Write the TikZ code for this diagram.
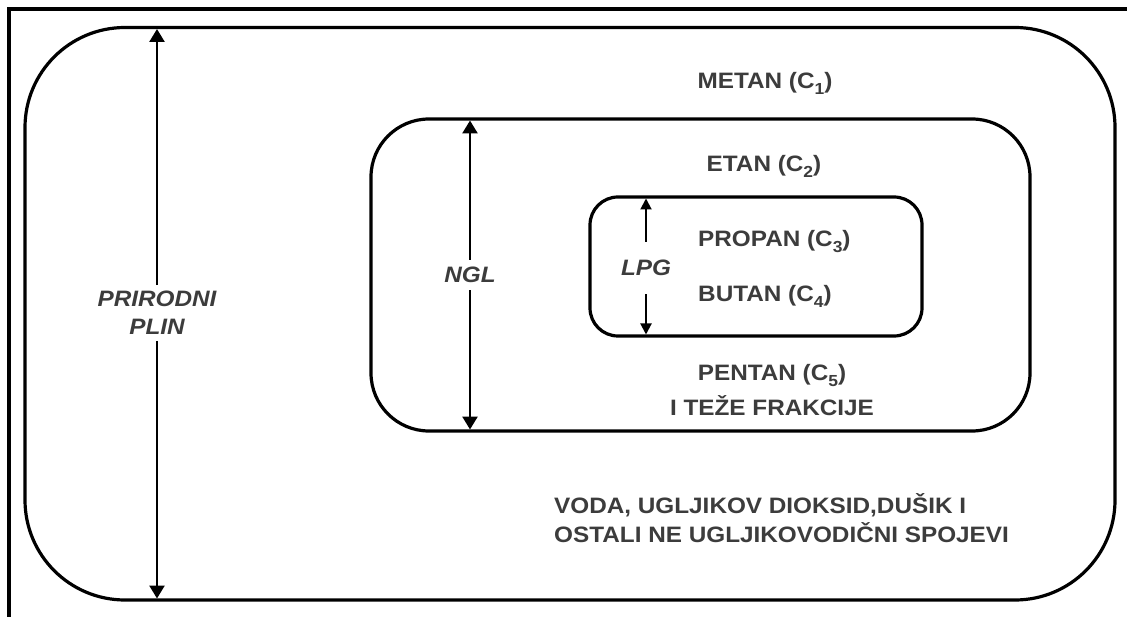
\documentclass[tikz,border=0pt]{standalone}
\usepackage{fontspec}
\setmainfont{Liberation Sans}[FakeStretch=1.09]
\usetikzlibrary{arrows.meta}
\definecolor{txt}{HTML}{3C3C3C}
\newcommand\subc[1]{\raisebox{-5.5pt}{\fontsize{16}{16}\selectfont #1}}
\begin{document}
\begin{tikzpicture}[x=1pt,y=-1pt,
  lbl/.style={text=txt,font=\bfseries\fontsize{22.3}{28}\selectfont,inner sep=0pt},
  ilbl/.style={lbl,font=\bfseries\itshape\fontsize{22.3}{28}\selectfont},
  box/.style={draw=black,line width=3.2pt},
  dim/.style={line width=2.6pt,-{Triangle[width=15pt,length=13pt]}},
  sdim/.style={line width=2pt,-{Triangle[width=11pt,length=11pt]}}]
\useasboundingbox (0,0) rectangle (1127,617);
\fill[white] (0,0) rectangle (1127,617);
% frame
\draw[line width=4pt] (9,617) -- (9,9.5) -- (1127,9.5);
% boxes
\draw[box, rounded corners=100pt] (25,27.5) rectangle (1115,600);
\draw[box, rounded corners=58pt] (371,119) rectangle (1030,431);
\draw[box, rounded corners=28pt] (590,197) rectangle (922,336);
% dimension labels
\node[ilbl,align=center,inner ysep=6pt] (plin) at (157,313) {PRIRODNI\\PLIN};
\coordinate (plinT) at (157,29);
\coordinate (plinB) at (157,598.5);
\draw[dim] (plin) -- (plinT);
\draw[dim] (plin) -- (plinB);
\node[ilbl,inner ysep=7pt] (ngl) at (470,275) {NGL};
\coordinate (nglT) at (470,120.5);
\coordinate (nglB) at (470,429.5);
\draw[dim] (ngl) -- (nglT);
\draw[dim] (ngl) -- (nglB);
\node[ilbl,inner ysep=18pt] (lpg) at (646,268) {LPG};
\coordinate (lpgT) at (646,198.5);
\coordinate (lpgB) at (646,334.5);
\draw[sdim] (lpg) -- (lpgT);
\draw[sdim] (lpg) -- (lpgB);
% contents
\node[lbl,anchor=base] (metan) at (765,89) {METAN (C\subc{1})};
\node[lbl,anchor=base] (etan) at (764,172) {ETAN (C\subc{2})};
\node[lbl,anchor=base west] (propan) at (698,247) {PROPAN (C\subc{3})};
\node[lbl,anchor=base west] (butan) at (698,302) {BUTAN (C\subc{4})};
\node[lbl,anchor=base] (pentan) at (772,381) {PENTAN (C\subc{5})};
\node[lbl,anchor=base] (teze) at (772,415) {I TEŽE FRAKCIJE};
\node[lbl,anchor=base west] (voda) at (554,513) {VODA, UGLJIKOV DIOKSID,DUŠIK I};
\node[lbl,anchor=base west] (ostali) at (554,542) {OSTALI NE UGLJIKOVODIČNI SPOJEVI};
\end{tikzpicture}
\end{document}
